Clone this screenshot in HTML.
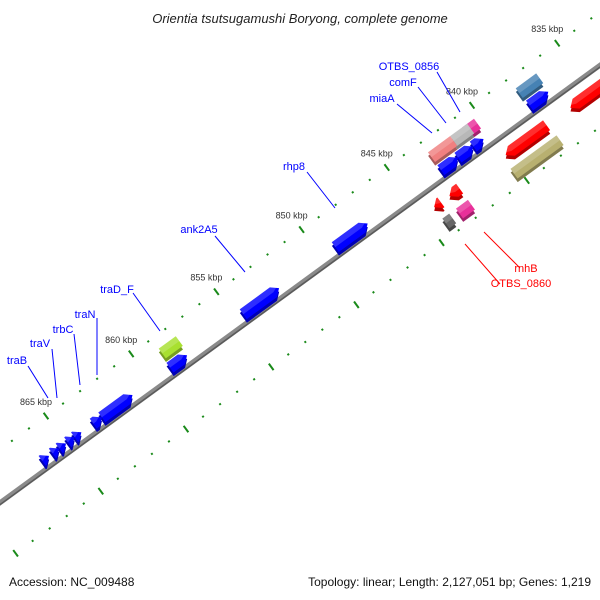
<!DOCTYPE html>
<html><head><meta charset="utf-8"><style>
html,body{margin:0;padding:0;background:#fff;width:600px;height:600px;overflow:hidden;}
svg{display:block;font-family:"Liberation Sans",sans-serif;}
</style></head><body>
<svg id="map" width="600" height="600" viewBox="0 0 600 600" xmlns="http://www.w3.org/2000/svg">
<defs>
<clipPath id="clip"><rect x="0" y="0" width="600" height="570"/></clipPath>
</defs>
<text x="300" y="23" text-anchor="middle" font-size="13" font-style="italic" fill="#222">Orientia tsutsugamushi Boryong, complete genome</text>
<g clip-path="url(#clip)">
<g id="frame" transform="translate(46,416) rotate(-36.1)"></g>
<g id="ann"></g>
</g>
<text x="9" y="586" font-size="12" fill="#111">Accession: NC_009488</text>
<text x="591" y="586" font-size="12" text-anchor="end" fill="#111">Topology: linear; Length: 2,127,051 bp; Genes: 1,219</text>
</svg>
<script>
const NS="http://www.w3.org/2000/svg";
// data
const tickStart=828, tickEnd=878;
const majorLabels=[835,840,845,850,855,860,865];
const geneStarts=[836.7,836.65,840.3,840.7,841.7,840.5,841.1,842.0,847.3,852.5,857.8,857.9,861.1,862.9,864.1,864.5,865.0,865.4,866.0,833.5,837.7,837.6,842.8,842.8,843.9,843.9];
const geneEnds  =[837.8,837.85,841.0,841.7,843.0,841.1,842.0,843.0,849.2,854.6,858.8,858.9,862.9,863.4,864.5,864.9,865.4,865.8,866.4,836.3,840.1,840.3,843.4,843.5,844.3,844.3];
const geneTracks=["u1","u2","u2","u2","u2","u1","u1","u1","u1","u1","u2","u1","u1","u1","u1","u1","u1","u1","u1","l1","l1","l2","l1","l2","l1","l2"];
const geneDirs  =[-1,0,0,0,0,-1,-1,-1,-1,-1,0,-1,-1,-1,-1,-1,-1,-1,-1,1,1,0,1,0,1,0];
const geneColors=["#0000ff","#4682b4","#e8309a","#b8b8b8","#f08080","#0000ff","#0000ff","#0000ff","#0000ff","#0000ff","#a8e030","#0000ff","#0000ff","#0000ff","#0000ff","#0000ff","#0000ff","#0000ff","#0000ff","#ff0000","#ff0000","#b8b070","#ff0000","#e8309a","#ff0000","#666666"];
const labelNames=["OTBS_0856","comF","miaA","rhp8","ank2A5","traD_F","traN","trbC","traV","traB","rnhB","OTBS_0860"];
const labelColors=["#0000ff","#0000ff","#0000ff","#0000ff","#0000ff","#0000ff","#0000ff","#0000ff","#0000ff","#0000ff","#ff0000","#ff0000"];
const labelText=[[409,70],[403,86],[382,102],[294,170],[199,233],[117,293],[85,318],[63,333],[40,347],[17,364],[526,272],[521,287]];
const labelLine=[[437,72,460,112],[418,87,446,123],[397,104,432,133],[307,172,335,208],[215,236,245,272],[133,293,160,331],[97,318,97,375],[74,334,80,385],[52,349,57,398],[28,366,48,398],[484,232,520,268],[465,244,500,284]];

const scale=21.09;
const X=k=>(865-k)*scale;
const trackY={u1:34,u2:18,l1:60,l2:80};
const backboneY=43, upperTickY=0, lowerTickY=93;
const ang=-36.1*Math.PI/180, ux=Math.cos(ang), uy=Math.sin(ang);
const toScreen=(fx,fy)=>[46+fx*ux-fy*uy, 416+fx*uy+fy*ux];
const frame=document.getElementById('frame');
const ann=document.getElementById('ann');
function mk(tag,attrs,parent){const e=document.createElementNS(NS,tag);for(const k in attrs)e.setAttribute(k,attrs[k]);parent.appendChild(e);return e;}

// backbone
const bb=mk('line',{x1:-200,y1:backboneY,x2:900,y2:backboneY,stroke:'#8a8a8a','stroke-width':5},frame);


mk('line',{x1:-200,y1:backboneY+1.5,x2:900,y2:backboneY+1.5,stroke:'#5a5a5a','stroke-width':1.5},frame);

// ticks
for(let k=tickStart;k<=tickEnd;k++){
  const major=k%5===0;
  [upperTickY,lowerTickY].forEach((ty,ri)=>{
    const t=mk('line',{x1:X(k),y1:ty-(major?4:1),x2:X(k),y2:ty+(major?4:1),stroke:'#1a8a1a','stroke-width':2},frame);
    
    
  });
}
majorLabels.forEach(k=>{
  const p=toScreen(X(k),upperTickY);
  const t=mk('text',{x:p[0]-10,y:p[1]-11,'font-size':9,fill:'#333','text-anchor':'middle'},ann);
  t.textContent=k+' kbp';
  
  
});

// genes
function shade(c,f){const n=parseInt(c.slice(1),16);let r=n>>16,g=(n>>8)&255,b=n&255;r=Math.round(r*f);g=Math.round(g*f);b=Math.round(b*f);return `rgb(${r},${g},${b})`;}
function pts(a,b,y,h,dir){
  const len=b-a, hl=Math.min(7,len);
  if(dir===-1){
    return [[a,y-h],[b-hl,y-h],[b,y],[b-hl,y+h],[a,y+h]];
  } else if(dir===1){
    return [[a+hl,y-h],[b,y-h],[b,y+h],[a+hl,y+h],[a,y]];
  }
  return [[a,y-h],[b,y-h],[b,y+h],[a,y+h]];
}
geneStarts.forEach((s,i)=>{
  const a=Math.min(X(s),X(geneEnds[i])), b=Math.max(X(s),X(geneEnds[i]));
  const y=trackY[geneTracks[i]];
  const g=mk('g',{},frame);
  
  
  const p=pts(a,b,y,6,geneDirs[i]);
  mk('polygon',{points:p.map(q=>(q[0]-2)+','+(q[1]+3)).join(' '),fill:shade(geneColors[i],0.7)},g);
  mk('polygon',{points:p.map(q=>q.join(',')).join(' '),fill:geneColors[i]},g);
  mk('polygon',{points:pts(a,b,y-3,3,geneDirs[i]).map(q=>q.join(',')).join(' '),fill:'#fff','fill-opacity':0.18},g);
});

// labels
labelNames.forEach((n,i)=>{
  const L=labelLine[i];
  const ln=mk('line',{x1:L[0],y1:L[1],x2:L[2],y2:L[3],stroke:labelColors[i],'stroke-width':1},ann);
  
  
  const t=mk('text',{x:labelText[i][0],y:labelText[i][1],'font-size':11,fill:labelColors[i],'text-anchor':'middle'},ann);
  t.textContent=n;
  
  
});
</script>
</body></html>
